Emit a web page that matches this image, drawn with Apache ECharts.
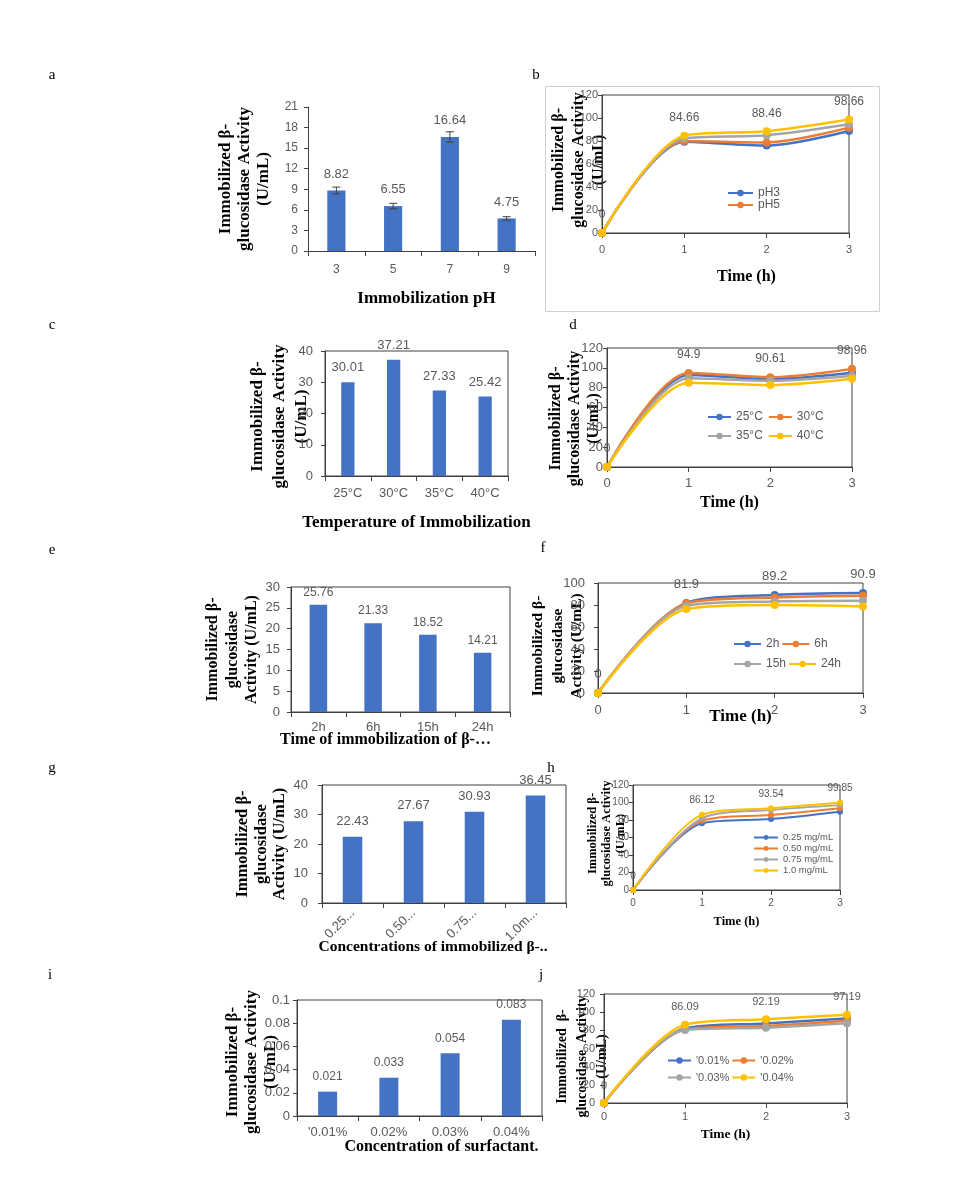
<!DOCTYPE html>
<html>
<head>
<meta charset="utf-8">
<script src="https://cdn.jsdelivr.net/npm/echarts@6/dist/echarts.min.js"></script>
<style>
html, body { margin: 0; padding: 0; background: #fff; }
#main { width: 973px; height: 1193px; }
</style>
</head>
<body>
<div id="main"></div>
<script>
// ---- data ----
var phCats = ['3', '5', '7', '9'];
var phActivity = [8.82, 6.55, 16.64, 4.75];
var phError = [0.5, 0.4, 0.75, 0.25];

var timeCats = ['0', '1', '2', '3'];

var phNames = ['pH3', 'pH5', 'pH7', 'pH9'];
var phTime3 = [0, 79.4, 76.0, 88.7];
var phTime5 = [0, 80.0, 78.8, 91.6];
var phTime7 = [0, 82.3, 85.0, 94.5];
var phTime9 = [0, 84.66, 88.46, 98.66];

var tempCats = ['25°C', '30°C', '35°C', '40°C'];
var tempActivity = [30.01, 37.21, 27.33, 25.42];
var tempTime25 = [0, 92.8, 88.7, 95.0];
var tempTime30 = [0, 94.9, 90.61, 98.96];
var tempTime35 = [0, 89.4, 87.0, 92.0];
var tempTime40 = [0, 85.0, 82.7, 89.0];

var durCats = ['2h', '6h', '15h', '24h'];
var durActivity = [25.76, 21.33, 18.52, 14.21];
var durTime2 = [0, 81.9, 89.2, 90.9];
var durTime6 = [0, 81.5, 86.8, 88.3];
var durTime15 = [0, 79.3, 83.2, 83.8];
var durTime24 = [0, 76.3, 80.0, 78.7];

var concCats = ['0.25 mg/mL', '0.50 mg/mL', '0.75 mg/mL', '1.0mg/mL'];
var concNames = ['0.25 mg/mL', '0.50 mg/mL', '0.75 mg/mL', '1.0 mg/mL'];
var concActivity = [22.43, 27.67, 30.93, 36.45];
var concTime025 = [0, 76.2, 81.1, 89.5];
var concTime050 = [0, 79.2, 85.7, 93.4];
var concTime075 = [0, 82.0, 91.4, 97.0];
var concTime100 = [0, 86.12, 93.54, 99.85];

var surfCats = ["'0.01%", '0.02%', '0.03%', '0.04%'];
var surfNames = ["'0.01%", "'0.02%", "'0.03%", "'0.04%"];
var surfActivity = [0.021, 0.033, 0.054, 0.083];
var surfTime001 = [0, 82.1, 87.6, 93.0];
var surfTime002 = [0, 81.0, 84.7, 90.6];
var surfTime003 = [0, 80.3, 82.8, 87.7];
var surfTime004 = [0, 86.09, 92.19, 97.19];

// ---- styling ----
var BLUE = '#4472C4';
var lineColors = ['#4472C4', '#ED7D31', '#A5A5A5', '#FFC000'];
var tickColor = '#595959';
var axisColor = '#404040';
var serif = '"Liberation Serif", "Times New Roman", serif';
var sans = '"Liberation Sans", Arial, sans-serif';

var yTitle3 = 'Immobilized β-\nglucosidase Activity\n(U/mL)';
var yTitleAct = 'Immobilized β-\nglucosidase\nActivity (U/mL)';

var grids = [], xAxes = [], yAxes = [], series = [], legends = [];

// p holds the layout of one panel (box, fonts, gaps)
function addAxes(p, cats, isBar) {
  var k = grids.length;
  grids.push({
    left: p.box[0], top: p.box[1], width: p.box[2], height: p.box[3],
    show: p.frame, borderColor: axisColor, borderWidth: 1, backgroundColor: 'transparent'
  });
  xAxes.push({
    gridIndex: k, type: 'category', data: cats, boundaryGap: isBar,
    axisLine: { show: true, onZero: false, lineStyle: { color: axisColor } },
    axisTick: { show: true, length: 5, alignWithLabel: !isBar, lineStyle: { color: axisColor } },
    axisLabel: {
      interval: 0, color: tickColor, fontSize: p.tickFont, fontFamily: sans,
      margin: p.xMargin, rotate: p.xRotate || 0,
      formatter: p.xFormatter
    },
    splitLine: { show: false },
    name: p.xTitle, nameLocation: 'middle', nameGap: p.xGap, nameMoveOverlap: false,
    nameTextStyle: {
      fontFamily: serif, fontWeight: 'bold', fontSize: p.xFont, color: '#000',
      padding: p.xShift >= 0 ? [0, 0, 0, 2 * p.xShift] : [0, -2 * p.xShift, 0, 0]
    }
  });
  yAxes.push({
    gridIndex: k, type: 'value', min: p.yMin, max: p.yMax, interval: p.yStep,
    axisLine: { show: true, lineStyle: { color: axisColor } },
    axisTick: { show: true, length: 4, lineStyle: { color: axisColor } },
    axisLabel: { color: tickColor, fontSize: p.tickFont, fontFamily: sans, margin: p.yMargin },
    splitLine: { show: false },
    name: p.yTitle, nameLocation: 'middle', nameRotate: 90, nameGap: p.yGap, nameMoveOverlap: false,
    nameTextStyle: {
      fontFamily: serif, fontWeight: 'bold', fontSize: p.yFont, color: '#000',
      lineHeight: p.yLine, align: 'center',
      padding: p.yShift >= 0 ? [0, 2 * p.yShift, 0, 0] : [0, 0, 0, -2 * p.yShift]
    }
  });
  return k;
}

function addBars(p, cats, vals) {
  var k = addAxes(p, cats, true);
  series.push({
    type: 'bar', xAxisIndex: k, yAxisIndex: k, data: vals, barWidth: p.barWidth,
    itemStyle: { color: BLUE },
    label: {
      show: true, position: 'top', distance: p.labelDist, color: tickColor,
      fontSize: p.labelFont, fontFamily: sans
    }
  });
  return k;
}

function addLines(p, names, lists, labelled) {
  var k = addAxes(p, timeCats, false);
  names.forEach(function (nm, i) {
    series.push({
      type: 'line', name: nm, xAxisIndex: k, yAxisIndex: k, data: lists[i],
      smooth: 0.3, symbol: 'circle', symbolSize: p.sym, z: 2 + i,
      lineStyle: { width: p.lw, color: lineColors[i] },
      itemStyle: { color: lineColors[i] },
      label: {
        show: i === labelled, position: 'top', distance: p.labelDist,
        color: tickColor, fontSize: p.labelFont, fontFamily: sans
      }
    });
  });
  return k;
}

function addLegend(names, left, top, opts) {
  legends.push(Object.assign({
    data: names, left: left, top: top, orient: 'horizontal',
    itemWidth: 23, itemHeight: 8, itemGap: 2, padding: 0,
    selectedMode: false,
    textStyle: { color: tickColor, fontSize: 11, fontFamily: sans }
  }, opts || {}));
}

// a
var kA = addBars({
  box: [308, 107, 227, 144], frame: false, yMin: 0, yMax: 21, yStep: 3,
  tickFont: 12, xMargin: 13, yMargin: 10, barWidth: '32%', labelDist: 10, labelFont: 13,
  xTitle: 'Immobilization pH', xGap: 39, xFont: 17, xShift: 5,
  yTitle: yTitle3, yGap: 35, yFont: 17, yLine: 19, yShift: 0
}, phCats, phActivity);
series.push({
  type: 'custom', xAxisIndex: kA, yAxisIndex: kA, z: 5,
  data: phCats.map(function (c, i) { return [i, phActivity[i], phError[i]]; }),
  renderItem: function (params, api) {
    var hi = api.coord([api.value(0), api.value(1) + api.value(2)]);
    var lo = api.coord([api.value(0), api.value(1) - api.value(2)]);
    var st = { stroke: '#404040', lineWidth: 1 };
    return { type: 'group', children: [
      { type: 'line', shape: { x1: hi[0], y1: hi[1], x2: lo[0], y2: lo[1] }, style: st },
      { type: 'line', shape: { x1: hi[0] - 4, y1: hi[1], x2: hi[0] + 4, y2: hi[1] }, style: st },
      { type: 'line', shape: { x1: lo[0] - 4, y1: lo[1], x2: lo[0] + 4, y2: lo[1] }, style: st }
    ] };
  }
});

// b
addLines({
  box: [602, 95, 247, 138], frame: true, yMin: 0, yMax: 120, yStep: 20,
  tickFont: 11, xMargin: 11, yMargin: 4, sym: 8, lw: 2.5, labelDist: 8, labelFont: 12,
  xTitle: 'Time (h)', xGap: 36, xFont: 16, xShift: 21,
  yTitle: yTitle3, yGap: -7, yFont: 16, yLine: 20, yShift: -4
}, phNames, [phTime3, phTime5, phTime7, phTime9], 3);
addLegend(['pH3', 'pH5'], 727, 187, { orient: 'vertical', itemGap: 0, itemWidth: 25,
  textStyle: { color: tickColor, fontSize: 12, fontFamily: sans } });

// c
addBars({
  box: [325, 351, 183, 125], frame: true, yMin: 0, yMax: 40, yStep: 10,
  tickFont: 13, xMargin: 11, yMargin: 12, barWidth: '29%', labelDist: 8, labelFont: 13,
  xTitle: 'Temperature of Immobilization', xGap: 38, xFont: 17, xShift: 0,
  yTitle: yTitle3, yGap: 12, yFont: 17, yLine: 22, yShift: 3
}, tempCats, tempActivity);

// d
addLines({
  box: [607, 348, 245, 119], frame: true, yMin: 0, yMax: 120, yStep: 20,
  tickFont: 13, xMargin: 10, yMargin: 4, sym: 8, lw: 2.5, labelDist: 8, labelFont: 12,
  xTitle: 'Time (h)', xGap: 28, xFont: 16, xShift: 0,
  yTitle: yTitle3, yGap: 4, yFont: 16, yLine: 19, yShift: 11
}, ['25°C', '30°C', '35°C', '40°C'], [tempTime25, tempTime30, tempTime35, tempTime40], 1);
addLegend(['25°C', '30°C'], 707, 411, { itemGap: 5,
  textStyle: { color: tickColor, fontSize: 12, fontFamily: sans, width: 48 } });
addLegend(['35°C', '40°C'], 707, 430, { itemGap: 5,
  textStyle: { color: tickColor, fontSize: 12, fontFamily: sans, width: 48 } });

// e
addBars({
  box: [291, 587, 219, 125], frame: true, yMin: 0, yMax: 30, yStep: 5,
  tickFont: 13, xMargin: 9, yMargin: 11, barWidth: '32%', labelDist: 6, labelFont: 12,
  xTitle: 'Time of immobilization of β-…', xGap: 20, xFont: 16, xShift: -15,
  yTitle: yTitleAct, yGap: 29, yFont: 16, yLine: 19.5, yShift: 0
}, durCats, durActivity);

// f
addLines({
  box: [598, 583, 265, 110], frame: true, yMin: 0, yMax: 100, yStep: 20,
  tickFont: 13, xMargin: 11, yMargin: 13, sym: 8, lw: 2.5, labelDist: 8, labelFont: 13,
  xTitle: 'Time (h)', xGap: 15, xFont: 17, xShift: 10,
  yTitle: yTitleAct, yGap: 11, yFont: 15.5, yLine: 19.5, yShift: 8
}, ['2h', '6h', '15h', '24h'], [durTime2, durTime6, durTime15, durTime24], 0);
addLegend(['2h', '6h'], 733, 638, { itemWidth: 27,
  textStyle: { color: tickColor, fontSize: 12, fontFamily: sans, width: 30 } });
addLegend(['15h', '24h'], 733, 658, { itemWidth: 27,
  textStyle: { color: tickColor, fontSize: 12, fontFamily: sans, width: 30 } });

// g
addBars({
  box: [322, 785, 244, 118], frame: true, yMin: 0, yMax: 40, yStep: 10,
  tickFont: 13, xMargin: 8, yMargin: 14, barWidth: '32%', labelDist: 9, labelFont: 13,
  xRotate: 45, xFormatter: function (s) { return s.slice(0, 4) + '...'; },
  xTitle: 'Concentrations of immobilized β-..', xGap: 36, xFont: 15.5, xShift: -11,
  yTitle: yTitleAct, yGap: 33, yFont: 16.5, yLine: 18.5, yShift: 0
}, concCats, concActivity);

// h
addLines({
  box: [633, 785, 207, 105], frame: true, yMin: 0, yMax: 120, yStep: 20,
  tickFont: 10, xMargin: 8, yMargin: 4, sym: 6, lw: 2, labelDist: 6, labelFont: 10,
  xTitle: 'Time (h)', xGap: 25, xFont: 12.5, xShift: 0,
  yTitle: yTitle3, yGap: 5, yFont: 12.5, yLine: 14, yShift: -4
}, concNames, [concTime025, concTime050, concTime075, concTime100], 3);
addLegend(concNames, 753, 832, { orient: 'vertical', itemGap: 0, itemWidth: 24, itemHeight: 6,
  textStyle: { color: tickColor, fontSize: 9.5, fontFamily: sans, lineHeight: 11 } });

// i
addBars({
  box: [297, 1000, 245, 116], frame: true, yMin: 0, yMax: 0.1, yStep: 0.02,
  tickFont: 13, xMargin: 10, yMargin: 7, barWidth: '31%', labelDist: 9, labelFont: 12,
  xTitle: 'Concentration of surfactant.', xGap: 23, xFont: 16, xShift: 22,
  yTitle: yTitle3, yGap: 17, yFont: 17, yLine: 19, yShift: 4
}, surfCats, surfActivity);

// j
addLines({
  box: [604, 994, 243, 109], frame: true, yMin: 0, yMax: 120, yStep: 20,
  tickFont: 11, xMargin: 8, yMargin: 9, sym: 8, lw: 2.5, labelDist: 8, labelFont: 11,
  xTitle: 'Time (h)', xGap: 25, xFont: 13.5, xShift: 0,
  yTitle: 'Immobilized  β-\nglucosidase  Activity\n(U/mL)', yGap: -8, yFont: 14, yLine: 20, yShift: 8
}, surfNames, [surfTime001, surfTime002, surfTime003, surfTime004], 3);
addLegend(["'0.01%", "'0.02%"], 667, 1055, { itemGap: 2,
  textStyle: { color: tickColor, fontSize: 11, fontFamily: sans, width: 45 } });
addLegend(["'0.03%", "'0.04%"], 667, 1072, { itemGap: 2,
  textStyle: { color: tickColor, fontSize: 11, fontFamily: sans, width: 45 } });

// panel letters and the frame round panel b
var letters = [['a', 52, 75], ['b', 536, 75], ['c', 52, 325], ['d', 573, 325], ['e', 52, 550],
  ['f', 543, 548], ['g', 52, 768], ['h', 551, 768], ['i', 50, 975], ['j', 541, 975]];
var graphics = [{
  type: 'rect', left: 543, top: 84, shape: { width: 334, height: 225 },
  style: { fill: 'none', stroke: '#D0D0D0', lineWidth: 1 }, z: -1
}];
letters.forEach(function (l) {
  graphics.push({
    type: 'text', x: l[1], y: l[2],
    style: { text: l[0], font: '15px ' + serif, fill: '#000', textAlign: 'center', textVerticalAlign: 'middle' }
  });
});

var chart = echarts.init(document.getElementById('main'));
chart.setOption({
  animation: false,
  backgroundColor: '#fff',
  grid: grids,
  xAxis: xAxes,
  yAxis: yAxes,
  legend: legends,
  series: series,
  graphic: graphics
});
</script>
</body>
</html>
